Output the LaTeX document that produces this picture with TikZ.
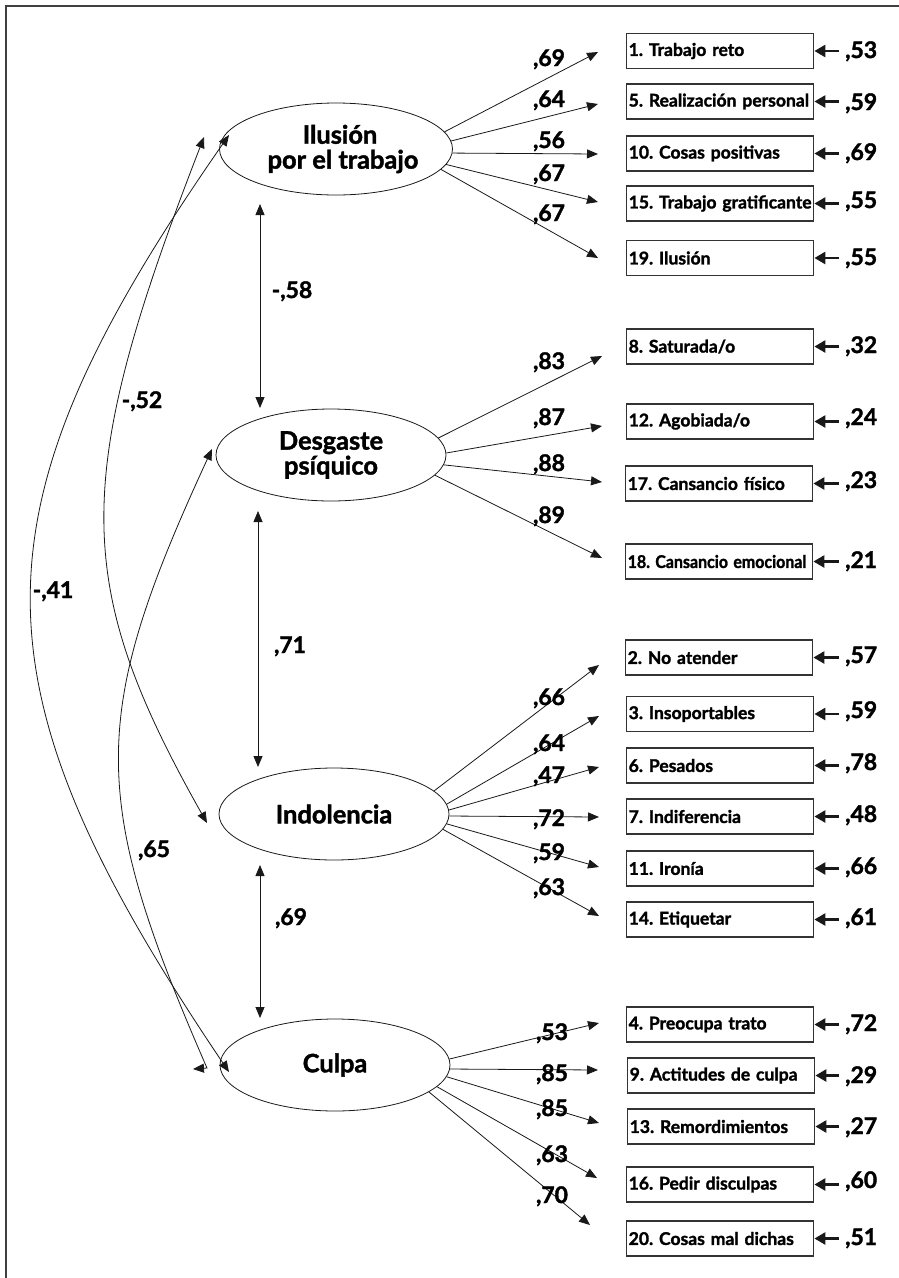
\documentclass[tikz,border=0pt]{standalone}
\usepackage{fontspec}
\setmainfont{Lato}[BoldFeatures={FakeBold=1.6}]
\usetikzlibrary{arrows.meta,shapes.geometric}
\frenchspacing

\tikzset{
  latent/.style={ellipse, draw=black!90, line width=0.8bp, minimum width=230bp,
    minimum height=92bp, inner sep=0pt, align=center,
    font=\fontsize{25.5}{25}\selectfont\bfseries},
  itembox/.style={rectangle, draw=black!80, line width=1.4bp, minimum height=35bp,
    text width=183bp, inner xsep=2bp, inner ysep=0pt, align=left, anchor=west,
    font=\fontsize{17.6}{19}\selectfont\bfseries},
  coef/.style={inner sep=0pt, anchor=base, font=\fontsize{23}{24}\selectfont\bfseries},
  errval/.style={coef, anchor=base west},
  load/.style={-{Triangle[length=11bp,width=9bp]}, line width=0.8bp, draw=black!90},
  corr/.style={{Triangle[length=11bp,width=9bp]}-{Triangle[length=11bp,width=9bp]},
    line width=0.8bp, draw=black!90},
  err/.style={-{Triangle[length=11bp,width=12bp]}, line width=2.6bp, draw=black!90},
}

\begin{document}
\begin{tikzpicture}[x=1bp,y=-1bp]
\useasboundingbox (0,0) rectangle (899,1278);

% frame
\draw[line width=2bp, black!75] (6,1278) -- (6,6) -- (899,6);

% latent factors
\node[latent] (ilu) at (336,149) {\hspace*{8bp}Ilusión\\\hspace*{14bp}por el trabajo};
\node[latent] (des) at (331,455) {Desgaste\\psíquico};
\node[latent] (ind) at (334,814) {Indolencia};
\node[latent] (cul) at (335,1065) {Culpa};

% items: Ilusión por el trabajo
\node[itembox] (b1)  at (626,51)    {\mbox{1. Trabajo reto}};
\node[itembox] (b5)  at (626,101.5) {\mbox{5. Realización personal}};
\node[itembox] (b10) at (626,153.5) {\mbox{10. Cosas positivas}};
\node[itembox] (b15) at (626,203.5) {\mbox{15. Trabajo gratificante}};
\node[itembox] (b19) at (626,258)   {\mbox{19. Ilusión}};
% items: Desgaste psíquico
\node[itembox] (b8)  at (626,346.5) {\mbox{8. Saturada/o}};
\node[itembox] (b12) at (626,421.5) {\mbox{12. Agobiada/o}};
\node[itembox] (b17) at (625,483.5) {\mbox{17. Cansancio físico}};
\node[itembox] (b18) at (625,561.5) {\scalebox{0.91}[1]{18. Cansancio emocional}};
% items: Indolencia
\node[itembox] (b2)  at (625,657.5) {\mbox{2. No atender}};
\node[itembox] (b3)  at (626,714)   {\mbox{3. Insoportables}};
\node[itembox] (b6)  at (626,765.5) {\mbox{6. Pesados}};
\node[itembox] (b7)  at (626,816.5) {\mbox{7. Indiferencia}};
\node[itembox] (b11) at (626,868.5) {\mbox{11. Ironía}};
\node[itembox] (b14) at (626,919.5) {\mbox{14. Etiquetar}};
% items: Culpa
\node[itembox] (b4)  at (626,1024.5) {\mbox{4. Preocupa trato}};
\node[itembox] (b9)  at (627,1075.5) {\mbox{9. Actitudes de culpa}};
\node[itembox] (b13) at (627,1126.5) {\mbox{13. Remordimientos}};
\node[itembox] (b16) at (626,1184.5) {\mbox{16. Pedir disculpas}};
\node[itembox] (b20) at (626,1238.5) {\mbox{20. Cosas mal dichas}};

% error variances (value node placed on its baseline)
\foreach \b/\v/\y in {b1/53/58, b5/59/110, b10/69/160, b15/55/208, b19/55/265,
                      b8/32/353, b12/24/425, b17/23/488, b18/21/568,
                      b2/57/663, b3/59/718, b6/78/770, b7/48/822, b11/66/874, b14/61/925,
                      b4/72/1031, b9/29/1083, b13/27/1134, b16/60/1188, b20/51/1245}{
  \node[errval] (e\b) at (845,\y) {,\v};
  \draw[err] ([xshift=-6bp]e\b.west |- \b.east) -- (\b.east);
}

% loading arrow tips
\coordinate (t1)  at (598,52);
\coordinate (t5)  at (598,104);
\coordinate (t10) at (598,154);
\coordinate (t15) at (598,202);
\coordinate (t19) at (598,258);
\coordinate (t8)  at (602,356);
\coordinate (t12) at (602,426);
\coordinate (t17) at (602,482);
\coordinate (t18) at (602,558);
\coordinate (t2)  at (599,665);
\coordinate (t3)  at (599,716);
\coordinate (t6)  at (599,767);
\coordinate (t7)  at (599,817);
\coordinate (t11) at (599,867);
\coordinate (t14) at (599,916);
\coordinate (t4)  at (599,1023);
\coordinate (t9)  at (598,1070);
\coordinate (t13) at (599,1123);
\coordinate (t16) at (597,1178);
\coordinate (t20) at (590,1225);

% factor loadings
\draw[load] (ilu.9.4)  -- (t1);
\draw[load] (ilu.4.6)  -- (t5);
\draw[load] (ilu.-2.5) -- (t10);
\draw[load] (ilu.-8.6) -- (t15);
\draw[load] (ilu.-11.9) -- (t19);
\draw[load] (des.9.4)  -- (t8);
\draw[load] (des.1)    -- (t12);
\draw[load] (des.-5.6) -- (t17);
\draw[load] (des.-11.4) -- (t18);
\draw[load] (ind.13.5) -- (t2);
\draw[load] (ind.5.7)  -- (t3);
\draw[load] (ind.2.5)  -- (t6);
\draw[load] (ind.-1.5) -- (t7);
\draw[load] (ind.-5.6) -- (t11);
\draw[load] (ind.-8.4) -- (t14);
\draw[load] (cul.3.5)  -- (t4);
\draw[load] (cul.-2.5) -- (t9);
\draw[load] (cul.-6.6) -- (t13);
\draw[load] (cul.-12.4) -- (t16);
\draw[load] (cul.-16.8) -- (t20);

% loading values (baseline positions)
\node[coef] (l1)  at (549,66)  {,69};
\node[coef] (l5)  at (549,107) {,64};
\node[coef] (l10) at (549,148) {,56};
\node[coef] (l15) at (549,181) {,67};
\node[coef] (l19) at (549,221) {,67};
\node[coef] (l8)  at (549,369) {,83};
\node[coef] (l12) at (549,425) {,87};
\node[coef] (l17) at (549,471) {,88};
\node[coef] (l18) at (549,523) {,89};
\node[coef] (l2)  at (549,705) {,66};
\node[coef] (l3)  at (549,751) {,64};
\node[coef] (l6)  at (549,783) {,47};
\node[coef] (l7)  at (549,826) {,72};
\node[coef] (l11) at (549,860) {,59};
\node[coef] (l14) at (549,895) {,63};
\node[coef] (l4)  at (552,1040) {,53};
\node[coef] (l9)  at (552,1081) {,85};
\node[coef] (l13) at (552,1116) {,85};
\node[coef] (l16) at (552,1162) {,63};
\node[coef] (l20) at (552,1203) {,70};

% correlations between adjacent factors
\coordinate (c1a) at (260,204);  \coordinate (c1b) at (260,408);
\coordinate (c2a) at (258,511);  \coordinate (c2b) at (258,767);
\coordinate (c3a) at (260,865);  \coordinate (c3b) at (260,1018);
\draw[corr] (c1a) -- (c1b);
\draw[corr] (c2a) -- (c2b);
\draw[corr] (c3a) -- (c3b);
\node[coef] (r1) at (292,298) {-,58};
\node[coef] (r2) at (290,653) {,71};
\node[coef] (r3) at (291,925) {,69};

% correlations between distant factors
\coordinate (k1a) at (229,135);  \coordinate (k1b) at (229,1072);
\coordinate (k2a) at (204,137);  \coordinate (k2b) at (207,823);
\coordinate (k3a) at (212,449);  \coordinate (k3m) at (207,1068);
\coordinate (k3b) at (193,1069);
\draw[corr] (k1a) .. controls (-34,513) and (-34,682) .. (k1b);
\draw[corr] (k2a) .. controls (71.5,479) and (71.5,583) .. (k2b);
\draw[corr] (k3a) .. controls (88.8,716) and (88.8,797) .. (k3m) -- (k3b);
\node[coef] (r4) at (53,598)  {-,41};
\node[coef] (r5) at (142,408) {-,52};
\node[coef] (r6) at (154,857) {,65};
\end{tikzpicture}
\end{document}
